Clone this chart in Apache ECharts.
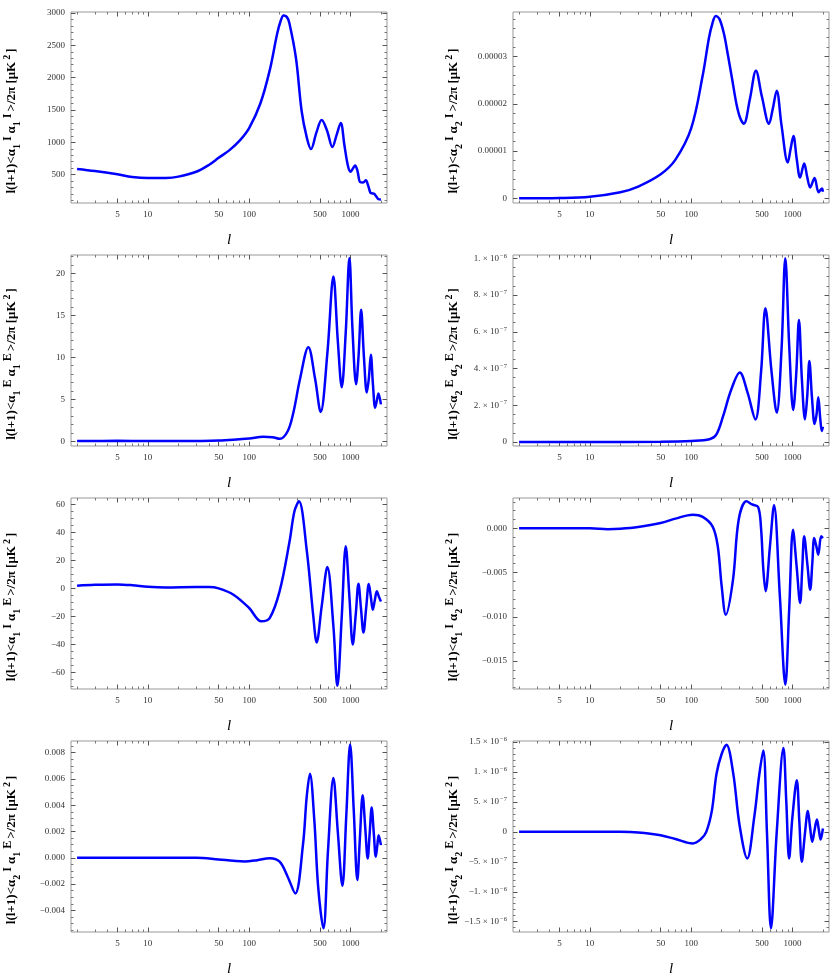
<!DOCTYPE html>
<html>
<head>
<meta charset="utf-8">
<script src="https://cdn.jsdelivr.net/npm/echarts@6/dist/echarts.min.js"></script>
<style>html,body{margin:0;padding:0;background:#fff}#c{width:830px;height:976px}</style>
</head>
<body>
<div id="c"></div>
<script>
// ---------------- data (multipole l and spectra values) ----------------
const ELL_TT11 = [2,3,5,7,10,15,20,30,40,50,64,81,100,129,160,189,205,219,235,249,290,330,370,408,461,520,588,663,732,802,873,941,1000,1062,1112,1173,1247,1334,1419,1497,1578,1652,1715,1795,1893,2000];
const TT11 = [588,556,505,464,448,450,470,545,650,760,880,1030,1220,1600,2120,2680,2880,2960,2940,2850,2300,1480,1080,895,1150,1345,1180,928,1120,1300,950,650,545,600,640,560,385,380,412,330,220,210,205,165,120,115];

const ELL_TT22 = [2,5,10,20,30,50,70,100,130,150,162,175,190,210,230,255,280,305,331,380,436,500,587,640,699,780,899,960,1023,1100,1191,1306,1400,1497,1654,1813,1956,2000];
const TT22 = [0,7e-8,3.5e-7,1.3e-6,2.5e-6,5.1e-6,8.2e-6,1.48e-5,2.6e-5,3.4e-5,3.7e-5,3.86e-5,3.8e-5,3.5e-5,3.05e-5,2.5e-5,2.0e-5,1.7e-5,1.58e-5,2.1e-5,2.7e-5,2.15e-5,1.58e-5,1.9e-5,2.28e-5,1.55e-5,7.6e-6,1.05e-5,1.32e-5,8.5e-6,4.4e-6,7.4e-6,4.5e-6,2.3e-6,4.3e-6,1.3e-6,2.1e-6,1.4e-6];

const ELL_EE11 = [2,5,10,20,30,50,70,100,138,170,201,240,273,317,384,447,508,592,679,750,821,899,977,1046,1138,1205,1275,1360,1451,1520,1590,1670,1754,1820,1892,2000];
const EE11 = [0.05,0.06,0.04,0.03,0.05,0.1,0.2,0.35,0.55,0.5,0.3,1.2,3.4,7.35,11.2,7.5,3.5,10.5,19.6,12,6.45,13,21.8,13.5,6.8,10.3,15.65,10,5.8,7.5,10.3,6.7,4.0,4.8,5.7,4.4];

const ELL_EE22 = [2,10,50,100,152,177,206,248,302,360,431,490,541,620,700,780,850,930,1018,1090,1160,1240,1330,1400,1470,1560,1655,1730,1800,1880,1950,2000];
const EE22 = [0,0,2e-9,6e-9,1.5e-8,4e-8,1.38e-7,2.83e-7,3.78e-7,2.7e-7,1.23e-7,3.8e-7,7.28e-7,3.9e-7,1.6e-7,5.0e-7,1.0e-6,5.2e-7,1.74e-7,3.7e-7,6.64e-7,3.4e-7,1.23e-7,2.5e-7,4.41e-7,2.4e-7,9.8e-8,1.5e-7,2.43e-7,1.3e-7,6e-8,8.3e-8];

const ELL_TE11 = [2,3,5,7,10,15,30,40,50,70,100,132,160,200,250,280,310,370,430,464,520,592,679,743,821,899,975,1055,1130,1200,1270,1345,1430,1519,1590,1663,1740,1823,1910,2000];
const TE11 = [1.9,2.5,2.85,2.3,1.2,0.7,0.95,0.95,0,-4.5,-14,-23.5,-21,-2,33,55,62,27.5,-20,-38.5,-12.8,15.2,-27,-69.4,-20,30,-5,-40,-18,3.3,-14,-31.4,-14,3.1,-6,-15.2,-8.5,-2.1,-6,-9.3];

const ELL_TE12 = [2,5,10,15,20,30,50,70,104,130,163,183,200,220,259,295,352,400,459,490,515,543,600,658,750,851,930,1013,1100,1191,1250,1306,1400,1497,1570,1640,1720,1800,1920,2000];
const TE12 = [0,0,0,-0.0001,-0.00005,0.00015,0.0006,0.0011,0.00155,0.0013,0.0002,-0.002,-0.0065,-0.00976,-0.0058,0.001,0.00305,0.0027,0.0024,0,-0.0045,-0.0071,-0.002,0.0026,-0.0075,-0.01767,-0.009,-0.00015,-0.0043,-0.00844,-0.0045,-0.0009,-0.0039,-0.00693,-0.004,-0.0011,-0.002,-0.00298,-0.0009,-0.0011];

const ELL_TE21 = [2,10,30,50,70,90,120,160,200,240,285,340,370,398,440,480,541,600,679,750,833,910,993,1080,1170,1240,1320,1400,1480,1550,1620,1700,1780,1840,1900,2000];
const TE21 = [0,0,0,-0.00013,-0.00023,-0.00028,-0.00018,-0.00003,-0.0003,-0.00144,-0.00271,0.001,0.00463,0.0064,0.00286,-0.0022,-0.00537,0.0005,0.00608,0.002,-0.00215,0.0032,0.00863,0.0035,-0.0017,0.0015,0.00476,0.0023,-0.00005,0.0019,0.00382,0.0019,0.00008,0.0009,0.00172,0.00096];

const ELL_TE22 = [2,10,20,30,50,70,104,125,141,160,178,200,223,260,300,358,420,470,515,560,614,700,815,870,927,1000,1104,1170,1238,1330,1420,1490,1567,1650,1745,1820,1898,2000];
const TE22 = [0,0,0,-1e-8,-5.6e-8,-1.2e-7,-1.94e-7,-1.2e-7,0,3.5e-7,9.7e-7,1.3e-6,1.455e-6,9.8e-7,1.2e-7,-4.44e-7,2.5e-7,9.5e-7,1.36e-6,0,-1.61e-6,0,1.4e-6,5e-7,-4.44e-7,2.5e-7,8.6e-7,1.7e-7,-5.0e-7,-2e-8,3.5e-7,9e-8,-1.67e-7,2e-8,2.06e-7,4e-8,-1.28e-7,5.6e-8];

// ---------------- tick values / labels ----------------
const X_TICK_VALUES = [5,10,50,100,500,1000];
const X_TICK_LABELS = ['5','10','50','100','500','1000'];
const X_MINOR_VALUES = [2,3,4,6,7,8,9,20,30,40,60,70,80,90,200,300,400,600,700,800,900,2000];

const Y1_TICKS = [500,1000,1500,2000,2500,3000];
const Y1_LABELS = ['500','1000','1500','2000','2500','3000'];
const Y2_TICKS = [0,1e-5,2e-5,3e-5];
const Y2_LABELS = ['0','0.00001','0.00002','0.00003'];
const Y3_TICKS = [0,5,10,15,20];
const Y3_LABELS = ['0','5','10','15','20'];
const Y4_TICKS = [0,2e-7,4e-7,6e-7,8e-7,1e-6];
const Y4_LABELS = ['0','{m|2. × 10}{e|−7}','{m|4. × 10}{e|−7}','{m|6. × 10}{e|−7}','{m|8. × 10}{e|−7}','{m|1. × 10}{e|−6}'];
const Y5_TICKS = [-60,-40,-20,0,20,40,60];
const Y5_LABELS = ['−60','−40','−20','0','20','40','60'];
const Y6_TICKS = [-0.015,-0.01,-0.005,0];
const Y6_LABELS = ['−0.015','−0.010','−0.005','0.000'];
const Y7_TICKS = [-0.004,-0.002,0,0.002,0.004,0.006,0.008];
const Y7_LABELS = ['−0.004','−0.002','0.000','0.002','0.004','0.006','0.008'];
const Y8_TICKS = [-1.5e-6,-1e-6,-5e-7,0,5e-7,1e-6,1.5e-6];
const Y8_LABELS = ['{m|−1.5 × 10}{e|−6}','{m|−1. × 10}{e|−6}','{m|−5. × 10}{e|−7}','0','{m|5. × 10}{e|−7}','{m|1. × 10}{e|−6}','{m|1.5 × 10}{e|−6}'];

// ---------------- layout / style ----------------
const FONT = 'Liberation Serif';
const GRID_W = 316, GRID_H = 191;
const COL_X = [71, 513];
const TITLE_X = [12, 454];
const ROW_Y = [12, 255, 498, 741];
const X_MIN = Math.log10(2) - 0.06, X_MAX = Math.log10(2000) + 0.06;
const LINE_COLOR = '#0000ff';

const panels = [
  {ell: ELL_TT11, val: TT11, ymin: 62, ymax: 3015, yt: Y1_TICKS, yl: Y1_LABELS, ym: 100, idx: ['1','I','1','I']},
  {ell: ELL_TT22, val: TT22, ymin: -9.8e-7, ymax: 3.945e-5, yt: Y2_TICKS, yl: Y2_LABELS, ym: 2e-6, idx: ['2','I','2','I']},
  {ell: ELL_EE11, val: EE11, ymin: -0.55, ymax: 22.17, yt: Y3_TICKS, yl: Y3_LABELS, ym: 1, idx: ['1','E','1','E']},
  {ell: ELL_EE22, val: EE22, ymin: -2.18e-8, ymax: 1.018e-6, yt: Y4_TICKS, yl: Y4_LABELS, ym: 5e-8, idx: ['2','E','2','E']},
  {ell: ELL_TE11, val: TE11, ymin: -71.7, ymax: 64.4, yt: Y5_TICKS, yl: Y5_LABELS, ym: 5, idx: ['1','I','1','E']},
  {ell: ELL_TE12, val: TE12, ymin: -0.01816, ymax: 0.00343, yt: Y6_TICKS, yl: Y6_LABELS, ym: 0.001, idx: ['1','I','2','E']},
  {ell: ELL_TE21, val: TE21, ymin: -0.00565, ymax: 0.00889, yt: Y7_TICKS, yl: Y7_LABELS, ym: 0.0005, idx: ['2','I','1','E']},
  {ell: ELL_TE22, val: TE22, ymin: -1.672e-6, ymax: 1.517e-6, yt: Y8_TICKS, yl: Y8_LABELS, ym: 1e-7, idx: ['2','I','2','E']}
];

function minorTicks(min, max, step, majors) {
  const out = [];
  for (let k = Math.ceil(min / step - 1e-9); k * step <= max + step * 1e-9; k++) {
    const v = k * step;
    if (!majors.some(m => Math.abs(m - v) < step * 1e-3)) out.push(v);
  }
  return out;
}
function nearestLabel(v, ticks, labels) {
  let best = 0, bd = Infinity;
  ticks.forEach((t, k) => { const d = Math.abs(t - v); if (d < bd) { bd = d; best = k; } });
  return labels[best];
}

const XMAJ = X_TICK_VALUES.map(Math.log10);
const XMIN = X_MINOR_VALUES.map(Math.log10);

const TITLE_RICH = {
  b: {fontFamily: FONT, fontSize: 13, fontWeight: 'bold', lineHeight: 20, verticalAlign: 'middle', color: '#000'},
  s: {fontFamily: FONT, fontSize: 10, fontWeight: 'bold', lineHeight: 10, verticalAlign: 'bottom', color: '#000', padding: [0, 1, 0, 0]},
  p: {fontFamily: FONT, fontSize: 12, fontWeight: 'bold', lineHeight: 12, verticalAlign: 'top', color: '#000', padding: [0, 2, 0, 2]},
  g: {fontFamily: FONT, fontSize: 13, fontWeight: 'bold', lineHeight: 20, verticalAlign: 'middle', color: '#000', padding: [0, 0, 0, 1]},
  q: {fontFamily: FONT, fontSize: 10, fontWeight: 'bold', lineHeight: 10, verticalAlign: 'top', color: '#000', padding: [0, 2, 0, 2]}
};
function titleText(ix) {
  return '{b|l(l+1)<α}{s|' + ix[0] + '}{p|' + ix[1] + '}{g|α}{s|' + ix[2] + '}{p|' + ix[3] + '}{b|>/2π [μK}{q|2}{b|]}';
}

const grids = [], xAxes = [], yAxes = [], series = [], graphics = [];
const TICK_MAJ = {color: '#555', width: 1};
const TICK_MIN = {color: '#777', width: 1};
const NO_LINE = {show: false, onZero: false};

panels.forEach((p, i) => {
  const col = i % 2, row = Math.floor(i / 2);
  const left = COL_X[col], top = ROW_Y[row];
  grids.push({left: left, top: top, width: GRID_W, height: GRID_H, show: true, borderColor: '#999', borderWidth: 1, backgroundColor: 'transparent', containLabel: false});

  const xb = {gridIndex: i, type: 'value', min: X_MIN, max: X_MAX, axisLine: NO_LINE, splitLine: {show: false}, silent: true};
  xAxes.push(Object.assign({}, xb, {position: 'bottom',
    axisTick: {inside: true, length: 4.5, customValues: XMAJ, lineStyle: TICK_MAJ},
    axisLabel: {customValues: XMAJ, formatter: v => nearestLabel(v, XMAJ, X_TICK_LABELS), margin: 7, fontFamily: FONT, fontSize: 9, color: '#333'}}));
  xAxes.push(Object.assign({}, xb, {position: 'bottom', axisTick: {inside: true, length: 2.5, customValues: XMIN, lineStyle: TICK_MIN}, axisLabel: {show: false}}));
  xAxes.push(Object.assign({}, xb, {position: 'top', axisTick: {inside: true, length: 4.5, customValues: XMAJ, lineStyle: TICK_MAJ}, axisLabel: {show: false}}));
  xAxes.push(Object.assign({}, xb, {position: 'top', axisTick: {inside: true, length: 2.5, customValues: XMIN, lineStyle: TICK_MIN}, axisLabel: {show: false}}));

  const ymin = minorTicks(p.ymin, p.ymax, p.ym, p.yt);
  const yb = {gridIndex: i, type: 'value', min: p.ymin, max: p.ymax, axisLine: NO_LINE, splitLine: {show: false}, silent: true};
  yAxes.push(Object.assign({}, yb, {position: 'left',
    axisTick: {inside: true, length: 4.5, customValues: p.yt, lineStyle: TICK_MAJ},
    axisLabel: {customValues: p.yt, formatter: v => nearestLabel(v, p.yt, p.yl), margin: 6, fontFamily: FONT, fontSize: 9, color: '#333',
      rich: {m: {fontFamily: FONT, fontSize: 9, color: '#333', lineHeight: 12, verticalAlign: 'middle'},
             e: {fontFamily: FONT, fontSize: 6.5, color: '#333', lineHeight: 6.5, verticalAlign: 'top', padding: [0, 0, 0, 1]}}}}));
  yAxes.push(Object.assign({}, yb, {position: 'left', axisTick: {inside: true, length: 2.5, customValues: ymin, lineStyle: TICK_MIN}, axisLabel: {show: false}}));
  yAxes.push(Object.assign({}, yb, {position: 'right', axisTick: {inside: true, length: 4.5, customValues: p.yt, lineStyle: TICK_MAJ}, axisLabel: {show: false}}));
  yAxes.push(Object.assign({}, yb, {position: 'right', axisTick: {inside: true, length: 2.5, customValues: ymin, lineStyle: TICK_MIN}, axisLabel: {show: false}}));

  series.push({type: 'line', xAxisIndex: 4 * i, yAxisIndex: 4 * i,
    data: p.ell.map((l, k) => [Math.log10(l), p.val[k]]),
    showSymbol: false, symbol: 'none', smooth: 0.35, clip: true,
    lineStyle: {color: LINE_COLOR, width: 2.5}, itemStyle: {color: LINE_COLOR}, silent: true});

  graphics.push({type: 'text', x: TITLE_X[col], y: top + 109, rotation: Math.PI / 2, silent: true,
    style: {text: titleText(p.idx), rich: TITLE_RICH, fontFamily: FONT, fontSize: 13, fontWeight: 'bold', fill: '#000',
      align: 'center', verticalAlign: 'middle', textAlign: 'center', textVerticalAlign: 'middle'}});
  graphics.push({type: 'text', x: left + GRID_W / 2, y: top + GRID_H + 37, silent: true,
    style: {text: 'l', fontFamily: FONT, fontSize: 15, fontStyle: 'italic', fill: '#000',
      align: 'center', verticalAlign: 'middle', textAlign: 'center', textVerticalAlign: 'middle'}});
});

const chart = echarts.init(document.getElementById('c'), null, {renderer: 'canvas'});
chart.setOption({
  animation: false,
  backgroundColor: '#fff',
  grid: grids,
  xAxis: xAxes,
  yAxis: yAxes,
  series: series,
  graphic: graphics
});
</script>
</body>
</html>
